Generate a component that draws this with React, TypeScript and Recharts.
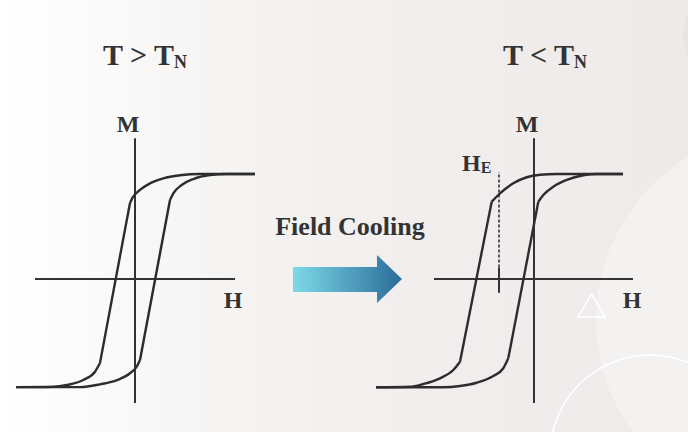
import { LineChart, Line, XAxis, YAxis, ReferenceLine } from 'recharts'

type Pt = { h: number; m: number }

// H in units of the half-length of the H axis, M in units of the saturation magnetisation

// T > T_N : symmetric loop
const ABOVE_ASC_LOWER: Pt[] = [
  { h: -1.19, m: -1.03 }, { h: -0.55, m: -1.03 }, { h: -0.35, m: -1.003 },
  { h: -0.18, m: -0.963 }, { h: -0.05, m: -0.898 }, { h: 0.017, m: -0.835 }, { h: 0.05, m: -0.771 },
]
const ABOVE_ASC_STEEP: Pt[] = [{ h: 0.05, m: -0.771 }, { h: 0.35, m: 0.752 }]
const ABOVE_ASC_UPPER: Pt[] = [
  { h: 0.35, m: 0.752 }, { h: 0.383, m: 0.816 }, { h: 0.467, m: 0.895 }, { h: 0.583, m: 0.952 },
  { h: 0.75, m: 0.99 }, { h: 0.917, m: 1.0 }, { h: 1.2, m: 1.0 },
]
const ABOVE_DESC_UPPER: Pt[] = [
  { h: -0.05, m: 0.724 }, { h: -0.023, m: 0.778 }, { h: 0.05, m: 0.848 }, { h: 0.15, m: 0.911 },
  { h: 0.283, m: 0.959 }, { h: 0.45, m: 0.988 }, { h: 0.65, m: 1.0 }, { h: 1.2, m: 1.0 },
]
const ABOVE_DESC_STEEP: Pt[] = [{ h: -0.35, m: -0.8 }, { h: -0.05, m: 0.724 }]
const ABOVE_DESC_LOWER: Pt[] = [
  { h: -1.19, m: -1.03 }, { h: -0.817, m: -1.026 }, { h: -0.683, m: -1.01 },
  { h: -0.517, m: -0.962 }, { h: -0.4, m: -0.883 }, { h: -0.35, m: -0.8 },
]

// T < T_N : loop shifted to negative H (exchange bias)
const BELOW_ASC_LOWER: Pt[] = [
  { h: -1.58, m: -1.031 }, { h: -0.907, m: -1.031 }, { h: -0.74, m: -1.019 }, { h: -0.573, m: -0.988 },
  { h: -0.407, m: -0.924 }, { h: -0.307, m: -0.85 }, { h: -0.257, m: -0.755 },
]
const BELOW_ASC_STEEP: Pt[] = [{ h: -0.257, m: -0.755 }, { h: 0.043, m: 0.736 }]
const BELOW_ASC_UPPER: Pt[] = [
  { h: 0.043, m: 0.736 }, { h: 0.093, m: 0.8 }, { h: 0.193, m: 0.879 }, { h: 0.327, m: 0.943 },
  { h: 0.493, m: 0.988 }, { h: 0.627, m: 1.0 }, { h: 0.89, m: 1.0 },
]
const BELOW_DESC_UPPER: Pt[] = [
  { h: -0.423, m: 0.736 }, { h: -0.34, m: 0.816 }, { h: -0.207, m: 0.911 }, { h: -0.073, m: 0.969 },
  { h: 0.06, m: 0.993 }, { h: 0.227, m: 1.0 }, { h: 0.89, m: 1.0 },
]
const BELOW_DESC_STEEP: Pt[] = [{ h: -0.74, m: -0.788 }, { h: -0.423, m: 0.736 }]
const BELOW_DESC_LOWER: Pt[] = [
  { h: -1.58, m: -1.031 }, { h: -1.24, m: -1.026 }, { h: -1.107, m: -1.0 },
  { h: -0.94, m: -0.946 }, { h: -0.807, m: -0.867 }, { h: -0.74, m: -0.788 },
]

const ABOVE_H_AXIS = [-1.0, 1.0]
const BELOW_H_AXIS = [-1.0, 0.99]
const M_AXIS = [-1.18, 1.34]
const EXCHANGE_FIELD = -0.35
const HE_DASH = [0.11, 1.02]
const HE_TICK = [-0.13, 0.11]

const TITLES = [
  { text: 'T > T', sub: 'N', x: 145 },
  { text: 'T < T', sub: 'N', x: 545 },
]
const ACTION = 'Field Cooling'

const INK = '#2d2d2d'
const FONT = '"Liberation Serif", "Times New Roman", serif'
const PX_H = 100
const PX_M = 105

type Frame = { originX: number; originY: number; left: number; top: number; width: number; height: number }

function LoopPanel({ frame, lower, steep, upper, hAxis, bias }: {
  frame: Frame; lower: Pt[][]; steep: Pt[][]; upper: Pt[][]; hAxis: number[]; bias?: number
}) {
  const xDomain = [(frame.left - frame.originX) / PX_H, (frame.left + frame.width - frame.originX) / PX_H]
  const yDomain = [(frame.originY - frame.top - frame.height) / PX_M, (frame.originY - frame.top) / PX_M]
  const curved = [...lower, ...upper]
  return (
    <div style={{ position: 'absolute', left: frame.left, top: frame.top }}>
      <LineChart width={frame.width} height={frame.height} margin={{ top: 0, right: 0, bottom: 0, left: 0 }}>
        <XAxis type="number" dataKey="h" domain={xDomain} allowDataOverflow hide />
        <YAxis type="number" dataKey="m" domain={yDomain} allowDataOverflow hide width={0} />
        <ReferenceLine segment={[{ x: hAxis[0], y: 0 }, { x: hAxis[1], y: 0 }]} stroke="#333" strokeWidth={2} />
        <ReferenceLine segment={[{ x: 0, y: M_AXIS[0] }, { x: 0, y: M_AXIS[1] }]} stroke="#333" strokeWidth={2} />
        {bias !== undefined && (
          <ReferenceLine segment={[{ x: bias, y: HE_DASH[0] }, { x: bias, y: HE_DASH[1] }]}
            stroke="#333" strokeWidth={1.6} strokeDasharray="3 2" />
        )}
        {bias !== undefined && (
          <ReferenceLine segment={[{ x: bias, y: HE_TICK[0] }, { x: bias, y: HE_TICK[1] }]}
            stroke="#333" strokeWidth={2} />
        )}
        {curved.map((d, i) => (
          <Line key={'c' + i} data={d} dataKey="m" type="monotoneX" stroke={INK} strokeWidth={2.4}
            dot={false} activeDot={false} isAnimationActive={false} />
        ))}
        {steep.map((d, i) => (
          <Line key={'s' + i} data={d} dataKey="m" type="linear" stroke={INK} strokeWidth={2.4}
            dot={false} activeDot={false} isAnimationActive={false} />
        ))}
      </LineChart>
    </div>
  )
}

export default function App() {
  return (
    <div style={{ position: 'absolute', left: 0, top: 0, width: 688, height: 432, overflow: 'hidden',
      background: 'linear-gradient(90deg, #ffffff 0%, #f6f5f4 30%, #f1eeed 60%, #eeeae9 100%)' }}>
      <svg width={688} height={432} style={{ position: 'absolute', left: 0, top: 0 }}>
        <circle cx={786} cy={320} r={190} fill="#f4f2f1" />
        <circle cx={745} cy={35} r={62} fill="#e9e5e4" />
        <circle cx={650} cy={455} r={100} fill="none" stroke="#ffffff" strokeWidth={1.5} />
        <polygon points="578,317 605,317 591.5,294" fill="none" stroke="#ffffff" strokeWidth={1.5} />
      </svg>

      <LoopPanel
        frame={{ originX: 135, originY: 279, left: 0, top: 100, width: 280, height: 320 }}
        lower={[ABOVE_ASC_LOWER, ABOVE_DESC_LOWER]}
        steep={[ABOVE_ASC_STEEP, ABOVE_DESC_STEEP]}
        upper={[ABOVE_ASC_UPPER, ABOVE_DESC_UPPER]}
        hAxis={ABOVE_H_AXIS}
      />
      <LoopPanel
        frame={{ originX: 534, originY: 279, left: 360, top: 100, width: 300, height: 320 }}
        lower={[BELOW_ASC_LOWER, BELOW_DESC_LOWER]}
        steep={[BELOW_ASC_STEEP, BELOW_DESC_STEEP]}
        upper={[BELOW_ASC_UPPER, BELOW_DESC_UPPER]}
        hAxis={BELOW_H_AXIS}
        bias={EXCHANGE_FIELD}
      />

      <svg width={688} height={432} style={{ position: 'absolute', left: 0, top: 0, pointerEvents: 'none' }}
        fontFamily={FONT} fontWeight="bold" fill="#333">
        <defs>
          <linearGradient id="arrowFill" x1="0" y1="0" x2="1" y2="0">
            <stop offset="0%" stopColor="#7dd9e8" />
            <stop offset="100%" stopColor="#2a6c99" />
          </linearGradient>
        </defs>
        {TITLES.map((t) => (
          <text key={t.text} x={t.x} y={65} textAnchor="middle" fontSize={30}>
            {t.text}<tspan fontSize={18} dy={3}>{t.sub}</tspan>
          </text>
        ))}
        <text x={350} y={235} textAnchor="middle" fontSize={26}>{ACTION}</text>
        <polygon points="293,267 377,267 377,255 402,279 377,303 377,292 293,292" fill="url(#arrowFill)" />

        <text x={128} y={132} textAnchor="middle" fontSize={24}>M</text>
        <text x={233} y={308} textAnchor="middle" fontSize={24}>H</text>
        <text x={527} y={132} textAnchor="middle" fontSize={24}>M</text>
        <text x={632} y={308} textAnchor="middle" fontSize={24}>H</text>
        <text x={462} y={171} fontSize={24}>H<tspan fontSize={16} dy={2}>E</tspan></text>
      </svg>
    </div>
  )
}
